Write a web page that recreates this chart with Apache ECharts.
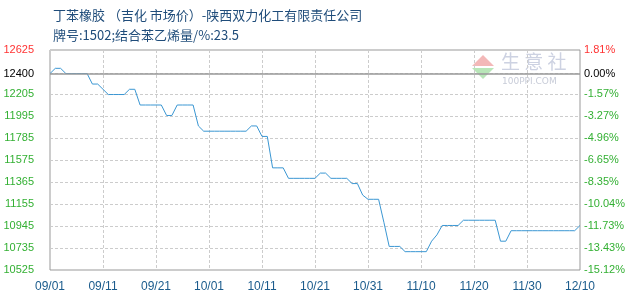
<!DOCTYPE html>
<html><head><meta charset="utf-8">
<script src="https://cdn.jsdelivr.net/npm/echarts@6/dist/echarts.min.js"></script>
<style>html,body{margin:0;padding:0;background:#fff}#c{width:630px;height:300px}</style>
</head><body><div id="c"></div>
<script>
const titleText = '丁苯橡胶 （吉化 市场价）-陕西双力化工有限责任公司';
const subText = '牌号:1502;结合苯乙烯量/%:23.5';
const startDate = [2020, 8, 1]; // 09/01
const dayCount = 101;
const prices = [
  12400, 12450, 12450, 12400, 12400, 12400, 12400, 12400, 12300, 12300,
  12250, 12200, 12200, 12200, 12200, 12250, 12250, 12100, 12100, 12100,
  12100, 12100, 12000, 12000, 12100, 12100, 12100, 12100, 11900, 11850,
  11850, 11850, 11850, 11850, 11850, 11850, 11850, 11850, 11900, 11900,
  11800, 11800, 11500, 11500, 11500, 11400, 11400, 11400, 11400, 11400,
  11400, 11450, 11450, 11400, 11400, 11400, 11400, 11350, 11350, 11240,
  11200, 11200, 11200, 10980, 10750, 10750, 10750, 10700, 10700, 10700,
  10700, 10700, 10800, 10860, 10950, 10950, 10950, 10950, 11000, 11000,
  11000, 11000, 11000, 11000, 11000, 10800, 10800, 10900, 10900, 10900,
  10900, 10900, 10900, 10900, 10900, 10900, 10900, 10900, 10900, 10900,
  10950
];
const leftTicks = [10525, 10735, 10945, 11155, 11365, 11575, 11785, 11995, 12205, 12400, 12625];
const yMin = 10525, yMax = 12625;

const categories = [];
for (let i = 0; i < dayCount; i++) {
  const d = new Date(startDate[0], startDate[1], startDate[2] + i);
  categories.push(String(d.getMonth() + 1).padStart(2, '0') + '/' + String(d.getDate()).padStart(2, '0'));
}
const base = prices[0];
const labelColor = v => v > base ? '#ff3333' : (v === base ? '#000000' : '#33b033');

const chart = echarts.init(document.getElementById('c'), null, {renderer: 'canvas'});
chart.setOption({
  animation: false,
  backgroundColor: '#ffffff',
  grid: {left: 50, right: 50, top: 50, bottom: 30, show: true, borderColor: '#999999', borderWidth: 1, containLabel: false},
  title: [
    {text: titleText, left: 48, top: 4, textStyle: {fontFamily: 'Noto Sans CJK SC', fontSize: 13, fontWeight: 'normal', color: '#1f4c7a'}},
    {text: subText, left: 48, top: 24, textStyle: {fontFamily: 'Noto Sans CJK SC', fontSize: 13, fontWeight: 'normal', color: '#1f4c7a'}}
  ],
  graphic: [
    {type: 'polygon', shape: {points: [[483, 55], [472, 66], [494, 66]]}, style: {fill: '#f3b8b8'}, silent: true},
    {type: 'polygon', shape: {points: [[472, 68], [494, 68], [483, 79]]}, style: {fill: '#b8e6b8'}, silent: true},
    {type: 'text', left: 501, top: 52, style: {text: '生 意 社', font: '19px "Noto Sans CJK SC"', fill: '#cdd2e2'}, silent: true},
    {type: 'text', left: 502, top: 77, style: {text: '100PPI.COM', font: '9px "DejaVu Sans"', fill: '#c8ccd8'}, silent: true}
  ],
  xAxis: {
    type: 'category', data: categories, boundaryGap: false,
    axisLine: {show: false}, axisTick: {show: false},
    axisLabel: {interval: 9, color: '#1a5b8c', fontFamily: 'Liberation Sans', fontSize: 12, margin: 11},
    splitLine: {show: true, interval: 9, lineStyle: {color: '#cccccc', type: [3, 2], width: 1}}
  },
  yAxis: [
    {
      type: 'value', min: yMin, max: yMax, position: 'left',
      axisLine: {show: false},
      axisTick: {show: false, customValues: leftTicks},
      axisLabel: {customValues: leftTicks, color: v => labelColor(Number(v)), fontFamily: 'Liberation Sans', fontSize: 11, margin: 16,
        formatter: v => String(v)},
      splitLine: {show: true, lineStyle: {color: '#cccccc', type: [3, 2], width: 1}}
    },
    {
      type: 'value', min: yMin, max: yMax, position: 'right',
      axisLine: {show: false},
      axisTick: {show: false, customValues: leftTicks},
      axisLabel: {customValues: leftTicks, color: v => labelColor(Number(v)), fontFamily: 'Liberation Sans', fontSize: 11, margin: 4,
        formatter: v => ((v / base - 1) * 100).toFixed(2) + '%'},
      splitLine: {show: false}
    }
  ],
  series: [{
    type: 'line', data: prices, yAxisIndex: 0, showSymbol: false, symbol: 'none',
    lineStyle: {color: '#3b97d3', width: 1},
    markLine: {silent: true, symbol: 'none', label: {show: false},
      lineStyle: {color: '#999999', type: 'solid', width: 1.5},
      data: [{yAxis: base}]},
    z: 3
  }]
});
</script></body></html>
